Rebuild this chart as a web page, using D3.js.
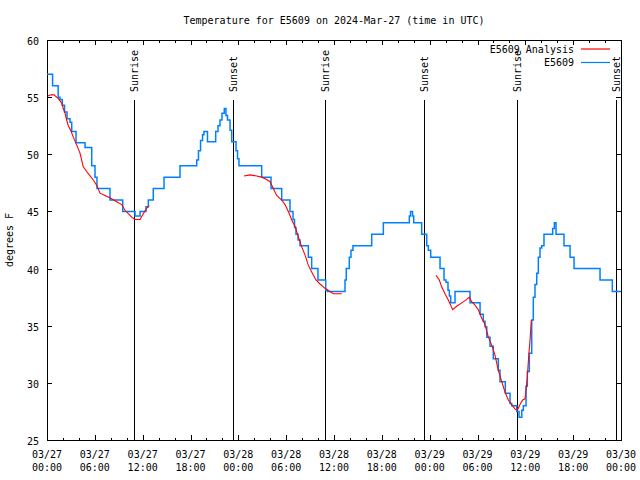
<!DOCTYPE html>
<html><head><meta charset="utf-8">
<script src="https://cdn.jsdelivr.net/npm/d3@7"></script>
<style>
body{margin:0;background:#fff}
text{font-family:"DejaVu Sans Mono",monospace;font-size:10px;fill:#000}
</style>
</head><body>
<svg id="chart" width="640" height="480"></svg>
<script>
const titleText = "Temperature for E5609 on 2024-Mar-27 (time in UTC)";
const yLabel = "degrees F";
const startDate = "2024-03-27T00:00:00Z";
const endDate = "2024-03-30T00:00:00Z";
const yTicks = [25, 30, 35, 40, 45, 50, 55, 60];

// Station observations (hours since start, degrees F), stepped
const stationHours = [0.0,0.7,1.4,1.63,1.92,2.2,2.51,2.89,3.1,3.64,4.77,5.61,6.02,6.27,7.9,9.5,11.04,11.67,12.42,12.71,13.33,14.68,16.68,18.78,19.0,19.26,19.51,19.69,20.13,21.16,21.45,21.7,21.95,22.24,22.45,22.64,22.96,23.17,23.71,23.9,24.08,26.93,28.1,29.44,30.48,30.86,31.05,31.23,31.49,31.74,32.78,33.2,33.99,34.96,35.16,37.38,37.54,37.92,38.13,38.38,40.73,42.19,45.45,45.6,45.85,46.0,47.0,47.63,47.83,48.13,49.3,49.8,50.05,50.3,50.47,50.64,51.18,53.06,54.32,54.73,54.94,55.16,55.57,55.98,56.61,56.82,57.49,58.08,58.29,58.92,59.21,59.55,59.75,60.09,60.25,60.5,60.8,61.0,61.21,61.43,61.63,61.84,62.05,62.34,63.43,63.64,63.85,64.85,65.61,66.11,69.37,70.91,72.0];
const stationTemps = [57,56,55,54.8,54.3,53.7,53.1,52.8,52,51,50.6,49,48,47,46,45,44.6,45,45.4,46,47,48,49,49.5,50.3,51.2,51.7,52,51.1,52,52.5,53,53.6,54,53.4,53,52.1,51.1,50.3,49.6,49,48,47,46,45,44.3,43.6,43,42.5,42,41,40,39,38.1,38,39,40,41,41.6,42,43,44,44.6,45,44.6,44,43,42,41.6,41,40,39,38.8,38.1,37.6,37,38,37,36,35.4,34.9,34,33.2,32.1,31.1,30.1,29.1,28.2,28,27.5,27,27.6,28,29.7,31,32.6,35.5,37.5,38.6,39.6,41,41.8,42,43,43.5,44,43,42,41,40,39,38,38];

// Analysis (hours since start, degrees F); null marks a gap
const analysisHours = [0.1,0.5,0.88,1.38,1.84,2.04,2.26,2.47,2.67,2.97,3.3,3.73,4.14,4.55,5.18,5.81,6.23,6.65,7.28,8.12,8.74,9.37,9.78,10.2,10.62,11.04,11.67,12.08,12.51,12.83,
  18.0,
  24.71,25.46,26.3,26.93,27.56,27.97,28.39,28.81,29.44,29.86,30.27,30.7,31.11,31.52,31.95,32.36,32.78,33.2,33.74,34.25,34.87,35.5,35.91,36.97,
  42.0,
  48.8,49.21,49.51,49.92,50.34,50.89,51.39,52.02,52.65,52.97,53.27,53.69,54.1,54.53,54.94,55.36,55.79,56.2,56.61,57.04,57.45,57.87,58.29,58.71,59.0,59.33,59.67,59.96,60.09,60.25,60.42,60.59,60.75];
const analysisTemps = [55.1,55.2,55.2,54.9,54.5,54.0,53.6,53.0,52.5,52.1,51.5,50.8,50.1,48.9,48.3,47.75,47.3,46.6,46.4,46.1,45.85,45.6,45.1,44.8,44.5,44.3,44.3,44.8,45.3,45.5,
  null,
  48.1,48.2,48.1,48.0,47.8,47.6,47.0,46.4,46.0,45.6,45.0,44.25,43.7,42.8,41.9,41.2,40.3,39.7,39.0,38.65,38.27,38.0,37.8,37.8,
  null,
  39.4,39.0,38.4,37.8,37.25,36.4,36.7,37.0,37.3,37.5,37.1,36.8,36.4,35.65,35.1,34.0,33.3,32.4,31.1,30.1,29.2,28.5,28.1,27.7,27.6,28.1,28.5,28.6,29.4,30.5,32.3,33.75,35.5];

const sunHours = [10.91, 23.33, 34.87, 47.3, 59.0, 71.42];
const sunLabels = ["Sunrise","Sunset","Sunrise","Sunset","Sunrise","Sunset"];
const legendLabels = ["E5609 Analysis", "E5609"];
const seriesColors = ["#ff0000", "#0080ff"];

const t0 = new Date(startDate), t1 = new Date(endDate);
const toDate = h => new Date(+t0 + h * 3600e3);
const L = 47, R = 621, T = 40, B = 440;

const svg = d3.select("#chart");
const x = d3.scaleUtc().domain([t0, t1]).range([L, R]);
const y = d3.scaleLinear().domain([25, 60]).range([B, T]);

const majorX = d3.utcHour.every(6).range(t0, new Date(+t1 + 1));
const minorX = d3.utcHour.every(2).range(t0, new Date(+t1 + 1)).filter(d => d.getUTCHours() % 6 !== 0);

function tickAxis(axis, tr) {
  svg.append("g").attr("transform", tr).call(axis)
    .call(g => g.select(".domain").remove())
    .call(g => g.selectAll("line").attr("stroke", "#000").attr("shape-rendering", "crispEdges"));
}
tickAxis(d3.axisBottom(x).tickValues(minorX).tickSize(-2.5).tickFormat(""), `translate(0,${B})`);
tickAxis(d3.axisBottom(x).tickValues(majorX).tickSize(-5).tickFormat(""), `translate(0,${B})`);
tickAxis(d3.axisTop(x).tickValues(minorX).tickSize(-2.5).tickFormat(""), `translate(0,${T})`);
tickAxis(d3.axisTop(x).tickValues(majorX).tickSize(-5).tickFormat(""), `translate(0,${T})`);
tickAxis(d3.axisRight(y).tickValues(yTicks).tickSize(-5).tickFormat(""), `translate(${R},0)`);

const yAx = svg.append("g").attr("transform", `translate(${L},0)`)
  .call(d3.axisLeft(y).tickValues(yTicks).tickSize(-5).tickPadding(8).tickFormat(d3.format("d")));
yAx.select(".domain").remove();
yAx.selectAll("line").attr("stroke", "#000").attr("shape-rendering", "crispEdges");
yAx.selectAll("text").attr("font-family", "DejaVu Sans Mono").attr("font-size", 10).attr("dy", "0.45em");

// x labels (two lines)
const fmtDate = d3.utcFormat("%m/%d"), fmtTime = d3.utcFormat("%H:%M");
const xl = svg.append("g").selectAll("text").data(majorX).join("text")
  .attr("text-anchor", "middle").attr("x", d => x(d));
xl.append("tspan").attr("x", d => x(d)).attr("y", 458).text(fmtDate);
xl.append("tspan").attr("x", d => x(d)).attr("y", 471).text(fmtTime);

// frame
svg.append("rect").attr("x", L + 0.5).attr("y", T + 0.5).attr("width", R - L).attr("height", B - T)
  .attr("fill", "none").attr("stroke", "#000").attr("shape-rendering", "crispEdges");

// title & y label
svg.append("text").attr("x", (L + R) / 2).attr("y", 24).attr("text-anchor", "middle").text(titleText);
svg.append("text").attr("transform", `translate(13,${(T + B) / 2}) rotate(-90)`).attr("text-anchor", "middle").text(yLabel);

// sun lines
const sun = svg.append("g");
sunHours.forEach((h, i) => {
  const sx = Math.round(x(toDate(h))) + 0.5;
  sun.append("line").attr("x1", sx).attr("x2", sx).attr("y1", 100).attr("y2", B)
    .attr("stroke", "#000").attr("shape-rendering", "crispEdges");
  sun.append("text").attr("transform", `translate(${sx + 3.5},92) rotate(-90)`)
    .attr("text-anchor", "start").text(sunLabels[i]);
});

// station line
const station = stationHours.map((h, i) => [toDate(h), stationTemps[i]]);
svg.append("path").datum(station)
  .attr("d", d3.line().x(d => x(d[0])).y(d => y(d[1])).curve(d3.curveStepAfter))
  .attr("fill", "none").attr("stroke", seriesColors[1]).attr("stroke-width", 1.5);

// analysis line
const analysis = analysisHours.map((h, i) => [toDate(h), analysisTemps[i]]);
svg.append("path").datum(analysis)
  .attr("d", d3.line().defined(d => d[1] !== null).x(d => x(d[0])).y(d => y(d[1])))
  .attr("fill", "none").attr("stroke", seriesColors[0]).attr("stroke-width", 1.1);

// legend
const lg = svg.append("g");
legendLabels.forEach((lab, i) => {
  const ly = 49 + i * 13.5;
  lg.append("text").attr("x", 574).attr("y", ly + 3.5).attr("text-anchor", "end").text(lab);
  lg.append("line").attr("x1", 581).attr("x2", 610).attr("y1", ly).attr("y2", ly)
    .attr("stroke", seriesColors[i]).attr("stroke-width", 1.2);
});
</script>
</body></html>
